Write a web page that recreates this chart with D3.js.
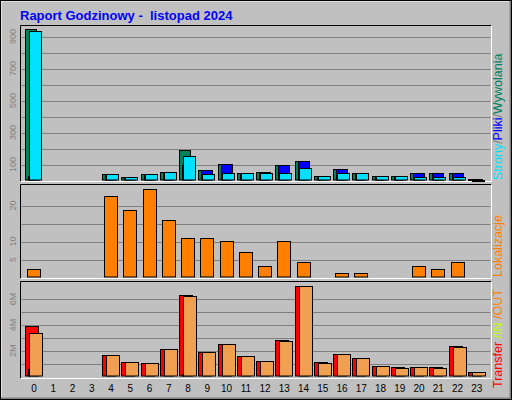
<!DOCTYPE html>
<html><head><meta charset="utf-8">
<script src="https://cdn.jsdelivr.net/npm/d3@7"></script>
<style>body{margin:0;background:#fff}svg{display:block}text{font-family:"Liberation Sans",Arial,sans-serif;white-space:pre}</style>
</head><body><svg id="c" width="512" height="400"></svg>
<script>
const hours = d3.range(24);
const hits  = [948,0,0,0,40,25,40,56,188,65,106,50,56,100,125,31,69,46,31,31,50,50,46,12];
const files = [27,0,0,0,38,25,38,56,96,65,106,50,56,100,125,31,69,46,31,31,50,50,46,10];
const pages = [937,0,0,0,40,25,40,56,152,40,50,46,46,50,81,31,50,46,31,31,21,25,21,6];
const visits = [2.3,0,0,0,22.6,18.7,24.5,15.9,10.9,10.9,10.1,7,3.1,10.1,4.3,0,1.2,1.2,0,0,3.1,2.3,4.3,0];
const kTotal = [3.93,0,0,0,1.68,1.14,1.06,2.14,6.33,1.91,2.53,1.6,1.21,2.84,7.03,1.14,1.76,1.45,0.83,0.75,0.75,0.75,2.38,0.36];
const kIn    = [0.6,0,0,0,0,0,0,0,0.2,0,0,0,0,0,0,0,0,0,0,0,0,0,0,0];
const kOut   = [3.36,0,0,0,1.68,1.14,1.06,2.14,6.25,1.91,2.53,1.6,1.21,2.76,7.03,1.06,1.76,1.45,0.83,0.65,0.75,0.67,2.3,0.36];

const svg = d3.select('#c');
svg.append('rect').attr('width',512).attr('height',400).attr('fill','#c0c0c0');
svg.append('path').attr('d','M0.5,399.5V0.5H511.5').attr('fill','none').attr('stroke','#fff').attr('stroke-width',2);
svg.append('path').attr('d','M1,398.5H510.5V1').attr('fill','none').attr('stroke','#808080').attr('stroke-width',2);
svg.append('rect').attr('x',0.5).attr('y',0.5).attr('width',511).attr('height',399).attr('fill','none').attr('stroke','#000');

svg.append('text').attr('x',20).attr('y',20).attr('fill','#0000ff').attr('font-size',13).attr('font-weight','bold')
  .text('Raport Godzinowy -  listopad 2024');

const L = 20.5, R = 491.5;
const x = d3.scaleBand().domain(hours).range([24.5, 486.5]);
const cx = h => x(h) + x.bandwidth() / 2;

function panel(top, bottom) {
  svg.append('path').attr('d',`M${L},${bottom}V${top}H${R}`).attr('fill','none').attr('stroke','#000');
  svg.append('path').attr('d',`M${L},${bottom}H${R}V${top}`).attr('fill','none').attr('stroke','#fff');
}
function grid(y, vals) {
  vals.forEach(v => svg.append('line').attr('x1',L+1).attr('x2',R-1)
    .attr('y1',Math.round(y(v))+0.5).attr('y2',Math.round(y(v))+0.5).attr('stroke','#808080'));
}
function yLabels(y, vals, fmt) {
  vals.forEach(v => svg.append('text').attr('transform',`translate(16,${y(v)}) rotate(-90)`)
    .attr('text-anchor','middle').attr('fill','#808080').attr('font-size',9).text(fmt(v)));
}
function bars(data, y, dx, w, color) {
  svg.append('g').selectAll('rect').data(hours.filter(h => data[h] > 0)).join('rect')
    .attr('x', h => Math.round(cx(h) + dx) + 0.5).attr('width', w)
    .attr('y', h => Math.round(y(data[h])) + 0.5)
    .attr('height', h => Math.max(1, y(0) - Math.round(y(data[h])) - 1))
    .attr('fill', color).attr('stroke', '#000');
}
function sideLabel(y0, parts) {
  const t = svg.append('text').attr('transform',`translate(502,${y0}) rotate(-90)`).attr('font-size',12.5);
  parts.forEach(([s,c]) => t.append('tspan').attr('fill',c).text(s));
}

// top panel
const y1 = d3.scaleLinear().domain([0,100]).range([180.5,164.5]);
panel(25.5, 181.5);
grid(y1, [100,200,300,400,500,600,700,800,900]);
yLabels(y1, [100,300,500,700,900], d => d);
bars(hits, y1, -9, 11, '#00805c');
bars(files, y1, -6, 11, '#0000ff');
bars(pages, y1, -5, 12, '#00e0ff');
sideLabel(180, [['Strony','#00e0ff'],['/','#808080'],['Pliki','#0000ff'],['/','#808080'],['Wywolania','#00805c']]);

// middle panel
const y2 = d3.scaleLinear().domain([0,10]).range([277.5,241.5]);
panel(184.5, 278.5);
grid(y2, [5,10,15,20]);
yLabels(y2, [5,10,20], d => d);
bars(visits, y2, -7, 13, '#ff8000');
sideLabel(277, [['Lokalizacje','#ff8000']]);

// bottom panel
const y3 = d3.scaleLinear().domain([0,1]).range([376.5,363.6]);
panel(281.5, 378.5);
grid(y3, [1,2,3,4,5,6]);
yLabels(y3, [2,4,6], d => d + 'M');
bars(kTotal, y3, -9, 13, '#ff0000');
bars(kIn, y3, -6, 1, '#ffff00');
bars(kOut, y3, -5, 13, '#f0a050');
sideLabel(388, [['Transfer','#ff0000'],[' /IN','#c0ff00'],[' /OUT','#ff8000']]);

svg.append('g').selectAll('text').data(hours).join('text')
  .attr('x', cx).attr('y', 392).attr('text-anchor','middle').attr('font-size',10).attr('fill','#000')
  .text(d => d);
</script></body></html>
